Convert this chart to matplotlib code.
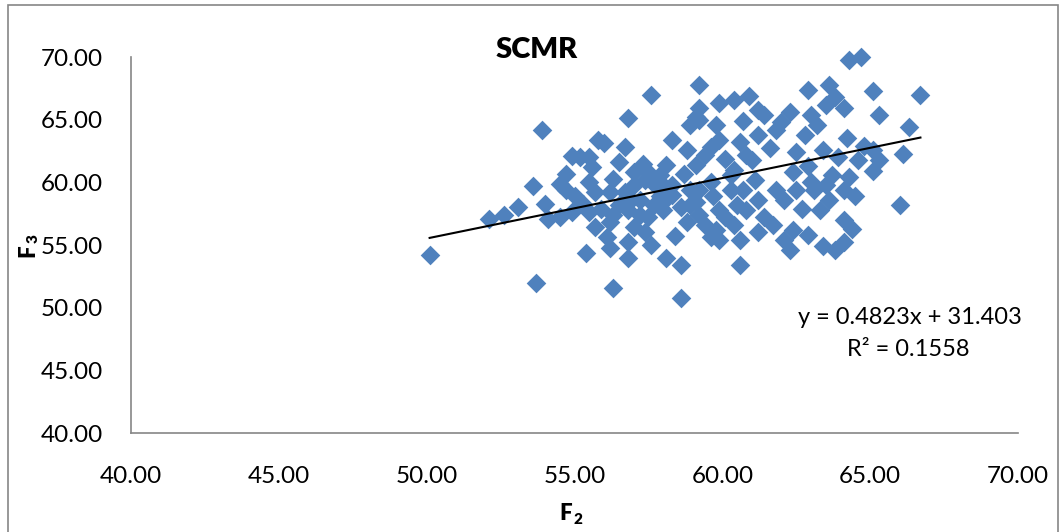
import numpy as np
import matplotlib.pyplot as plt
from matplotlib.patches import Rectangle

plt.rcParams["font.family"] = ["Lato", "DejaVu Sans"]

# F2 / F3 values
f2 = [50.1, 52.1, 53.7, 53.9, 52.6, 53.1, 54.0, 54.1, 53.6, 54.5,
      54.9, 55.2, 54.7, 55.5, 55.8, 56.0, 55.6, 54.9, 55.3, 54.5,
      55.5, 55.4, 56.3, 56.2, 56.1, 55.7, 56.2, 56.5, 55.9, 56.3,
      56.7, 56.8, 57.6, 56.9, 56.7, 56.8, 56.8, 57.0, 57.2, 57.3,
      57.5, 57.7, 57.0, 57.9, 58.0, 57.5, 57.6, 57.4, 58.1, 58.4,
      58.6, 58.6, 58.3, 58.1, 58.7, 58.3, 58.9, 59.1, 59.2, 59.2,
      59.4, 58.9, 59.1, 59.2, 58.8, 59.6, 59.7, 59.9, 59.8, 59.9,
      59.8, 59.9, 60.4, 60.1, 60.4, 60.6, 60.7, 60.9, 60.3, 60.5,
      60.4, 60.6, 60.6, 61.1, 61.0, 61.2, 61.4, 61.6, 61.4, 61.7,
      61.2, 61.8, 61.8, 62.0, 62.3, 62.3, 62.4, 62.5, 62.5, 62.8,
      62.9, 63.0, 62.9, 63.0, 62.7, 62.9, 63.2, 63.4, 63.5, 63.6,
      63.8, 63.5, 63.7, 63.6, 63.4, 64.1, 64.1, 64.2, 64.1, 64.1,
      64.3, 64.7, 64.4, 64.5, 64.6, 64.8, 65.1, 65.1, 65.3, 65.1,
      65.3, 66.1, 66.0, 66.3, 66.7,
      54.7, 55.0, 55.5, 55.7, 56.5, 57.0, 56.3, 56.8, 57.2, 57.4,
      57.9, 58.0, 58.6, 58.9, 58.8, 59.1, 59.2, 59.4, 59.6, 59.9,
      60.1, 60.3, 60.7, 60.8, 61.2, 62.1, 62.1, 62.4, 63.1, 63.3,
      63.9, 64.3, 63.8, 60.8, 61.2, 59.2, 59.6, 58.0, 58.3, 56.2,
      57.7]
f3 = [54.2, 57.1, 52.0, 64.2, 57.4, 58.0, 58.3, 57.1, 59.7, 59.9,
      62.1, 62.0, 60.7, 62.0, 63.4, 63.1, 61.2, 57.6, 58.3, 57.2,
      57.6, 54.4, 51.6, 54.8, 55.6, 56.4, 56.8, 58.2, 57.9, 60.3,
      62.8, 65.1, 67.0, 58.6, 59.2, 54.0, 55.2, 56.4, 57.4, 61.5,
      60.8, 59.9, 59.8, 58.9, 57.8, 57.2, 55.0, 56.0, 54.0, 55.7,
      50.8, 53.4, 59.8, 61.4, 60.7, 63.4, 64.6, 65.2, 67.8, 65.9,
      62.2, 59.4, 58.4, 57.4, 56.8, 60.0, 58.9, 57.8, 56.2, 63.4,
      64.6, 66.3, 66.6, 61.9, 61.0, 63.2, 64.9, 66.9, 59.4, 58.2,
      56.6, 55.4, 53.4, 60.2, 61.8, 63.8, 65.4, 62.7, 57.2, 56.6,
      56.0, 59.4, 64.2, 64.8, 65.6, 54.6, 56.2, 59.4, 62.4, 63.8,
      67.4, 65.4, 61.3, 60.0, 57.9, 55.8, 64.6, 62.6, 66.2, 67.8,
      66.8, 59.8, 60.6, 58.6, 54.9, 59.4, 65.9, 63.5, 57.0, 55.2,
      69.8, 70.0, 56.3, 58.9, 61.8, 62.9, 62.6, 67.3, 65.4, 60.9,
      61.8, 62.3, 58.2, 64.4, 67.0,
      59.4, 58.9, 60.0, 59.2, 61.6, 60.8, 57.4, 57.8, 58.6, 60.2,
      60.6, 58.4, 58.0, 58.2, 62.6, 61.4, 59.4, 56.6, 55.6, 55.4,
      57.2, 60.6, 59.4, 62.2, 58.6, 58.6, 55.4, 60.8, 59.4, 57.8,
      62.0, 60.4, 54.6, 57.8, 65.8, 65.0, 62.8, 59.8, 59.0, 59.2,
      58.2]

# linear trendline shown on the chart
slope = 0.4823
intercept = 31.403

fig = plt.figure(figsize=(10.62, 5.32), dpi=100)
ax = fig.add_axes([131 / 1062, 1 - 433 / 532, 887 / 1062, 376 / 532])

ax.scatter(f2, f3, marker="D", s=100, color="#4F81BD", linewidths=0,
           zorder=2, clip_on=False)

xs = np.array([min(f2), max(f2)])
ax.plot(xs, slope * xs + intercept, color="black", lw=1.5, zorder=3)

ax.set_xlim(40, 70)
ax.set_ylim(40, 70)
ax.set_xticks(np.arange(40, 71, 5))
ax.set_yticks(np.arange(40, 71, 5))
ax.set_xticklabels([f"{v:.2f}" for v in np.arange(40, 71, 5)])
ax.set_yticklabels([f"{v:.2f}" for v in np.arange(40, 71, 5)])
ax.tick_params(length=0, labelsize=17.5, pad=20, colors="black")
ax.tick_params(axis="x", pad=24)

for side in ["top", "right"]:
    ax.spines[side].set_visible(False)
for side in ["left", "bottom"]:
    ax.spines[side].set_color("#868686")
    ax.spines[side].set_linewidth(1.2)

fig.text(537 / 1062, 1 - 50 / 532, "SCMR", fontsize=21, fontweight="heavy",
         ha="center", va="center")

# axis titles: bold F with a smaller subscript digit
fig.text(566 / 1062, 1 - 514 / 532, "F", fontsize=16, fontweight="heavy",
         ha="center", va="center")
fig.text(578 / 1062, 1 - 519 / 532, "2", fontsize=11, fontweight="heavy",
         ha="center", va="center")
fig.text(28 / 1062, 1 - 251 / 532, "F", fontsize=16, fontweight="heavy",
         ha="center", va="center", rotation=90)
fig.text(33 / 1062, 1 - 239 / 532, "3", fontsize=11, fontweight="heavy",
         ha="center", va="center", rotation=90)

fig.text(910 / 1062, 1 - 318 / 532, "y = 0.4823x + 31.403", fontsize=17,
         ha="center", va="center")
fig.text(908 / 1062, 1 - 350 / 532, "R² = 0.1558", fontsize=17,
         ha="center", va="center")

fig.patches.append(Rectangle((8 / 1062, -0.02), 1050 / 1062, 1 - 5 / 532 + 0.02,
                             transform=fig.transFigure, fill=False,
                             edgecolor="#868686", lw=1.2))

fig.savefig("out.png", dpi=100)
